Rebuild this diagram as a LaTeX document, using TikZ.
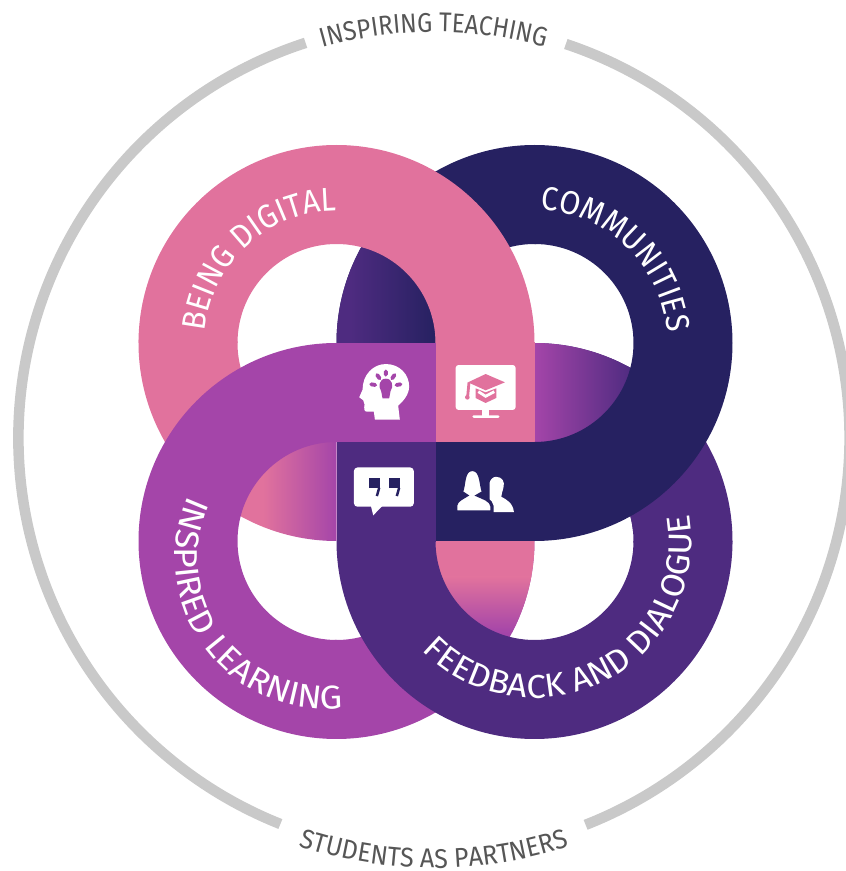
\documentclass[tikz,border=0pt]{standalone}
\usepackage{fontspec}
\setmainfont{Fira Sans}
\usetikzlibrary{calc,decorations.text}

\definecolor{pinkc}{HTML}{E1729D}
\definecolor{navyc}{HTML}{262161}
\definecolor{purplec}{HTML}{4E2B80}
\definecolor{magentac}{HTML}{A445A9}
\definecolor{ringc}{HTML}{C9C9C9}
\definecolor{capc}{HTML}{565656}

\def\Rout{1.98}
\def\Rin{.99}

% annular sector: centre, start angle, end angle
\newcommand{\annulus}[3]{(#1) ++(#2:\Rout) arc[start angle=#2,end angle=#3,radius=\Rout] -- ($(#1)+(#3:\Rin)$) arc[start angle=#3,end angle=#2,radius=\Rin] -- cycle}

% text on a circle: centre, radius, start, end, size, stretch, colour, text
\newcommand{\arclabel}[8]{\path[decorate,decoration={text along path,text align=center,text color=#7,text={|\fontspec[FakeStretch=#6]{Fira Sans}\fontsize{#5}{10}\selectfont|#8}}] (#1) ++(#3:#2) arc[start angle=#3,end angle=#4,radius=#2];}

\begin{document}
\begin{tikzpicture}
\useasboundingbox (0,0) rectangle (8.46,8.71);

\coordinate (P) at (3.365,5.28);
\coordinate (N) at (5.345,5.28);
\coordinate (M) at (3.365,3.30);
\coordinate (F) at (5.345,3.30);
\coordinate (O) at (4.34,4.33);

% outer ring
\draw[ringc,line width=3pt] (O) ++(108:4.155) arc[start angle=108,end angle=248.3,radius=4.155];
\draw[ringc,line width=3pt] (O) ++(71.5:4.155) arc[start angle=71.5,end angle=-68.6,radius=4.155];

% quarters that run under the next ring
\begin{scope}
  \clip \annulus{N}{89}{180};
  \fill[navyc] (3.3,5.2) rectangle (5.5,7.3);
  \fill[purplec] (3.3,5.2) rectangle (3.51,7.3);
  \shade[left color=purplec,right color=navyc] (3.5,5.2) rectangle (4.36,7.3);
\end{scope}
\begin{scope}
  \clip \annulus{F}{-1}{90};
  \fill[purplec] (5.3,3.2) rectangle (7.4,5.4);
  \shade[left color=magentac,right color=purplec] (5.345,3.2) rectangle (6.33,5.4);
\end{scope}
\begin{scope}
  \clip \annulus{M}{269}{360};
  \fill[magentac] (3.2,1.2) rectangle (5.4,3.4);
  \fill[pinkc] (3.2,2.93) rectangle (5.4,3.4);
  \shade[top color=pinkc,bottom color=magentac] (3.2,2.38) rectangle (5.4,2.94);
\end{scope}
\begin{scope}
  \clip \annulus{P}{179}{270};
  \fill[pinkc] (1.3,3.2) rectangle (2.64,5.5);
  \shade[left color=pinkc,right color=magentac] (2.63,3.2) rectangle (3.37,5.5);
\end{scope}

% solid parts
\fill[pinkc] \annulus{P}{0}{180};
\fill[pinkc] (4.355,5.29) rectangle (5.345,4.29);
\fill[navyc] \annulus{N}{-90}{90};
\fill[navyc] (4.355,4.29) rectangle (5.355,3.30);
\fill[purplec] \annulus{F}{180}{360};
\fill[purplec] (3.365,4.29) rectangle (4.355,3.29);
\fill[magentac] \annulus{M}{90}{270};
\fill[magentac] (3.355,5.28) rectangle (4.355,4.29);

% ring labels
\arclabel{P}{1.32}{190}{75}{9.4}{.92}{white}{BEING DIGITAL}
\arclabel{N}{1.33}{102}{-10}{9.4}{.92}{white}{COMMUNITIES}
\arclabel{3.26,3.13}{1.51}{141}{291}{9.4}{1.08}{white}{INSPIRED LEARNING}
\arclabel{F}{1.57}{208}{386}{9.4}{1.05}{white}{FEEDBACK AND DIALOGUE}

% outer labels
\arclabel{O}{4.06}{109}{71}{7.7}{.89}{capc}{INSPIRING TEACHING}
\arclabel{O}{4.30}{248}{292}{7.7}{.93}{capc}{STUDENTS AS PARTNERS}

% icons
\begin{scope}[shift={(3.2,6.41)},x=.0033333cm,y=-.0033333cm]
  % head
  \fill[white] (198,403) .. controls (240,403) and (268,435) .. (268,470)
    .. controls (268,495) and (250,515) .. (235,528) -- (240,570) -- (165,570) -- (162,546) -- (140,546)
    .. controls (132,546) and (132,535) .. (134,525) -- (130,512) -- (118,503) -- (128,480)
    .. controls (128,435) and (160,403) .. (198,403) -- cycle;
  \fill[magentac] (198,447) .. controls (218,447) and (222,470) .. (212,485) -- (208,506) -- (188,506) -- (184,485)
    .. controls (174,470) and (178,447) .. (198,447) -- cycle;
  \draw[magentac,line width=1.1pt,line cap=round]
    (198,425) -- (198,435)
    (172,436) -- (179,446)
    (224,436) -- (217,446)
    (154,464) -- (166,466)
    (242,464) -- (230,466);
  % monitor
  \fill[white,rounded corners=.8pt] (408,406) rectangle (588,541);
  \fill[white] (488,538) rectangle (508,560);
  \fill[white,rounded corners=.4pt] (458,557) rectangle (540,565);
  \fill[pinkc] (445,458) -- (498,433) -- (556,458) -- (498,482) -- cycle;
  \fill[pinkc] (468,476) -- (498,488) -- (530,476) -- (530,505) -- (498,520) -- (468,505) -- cycle;
  \draw[white,line width=.8pt] (476,486) -- (498,500) -- (524,486);
  \draw[pinkc,line width=.8pt] (448,458) -- (444,500);
  \fill[pinkc] (443,503) circle (7);
  % speech bubble
  \fill[white,rounded corners=1pt] (102,714) rectangle (282,832);
  \fill[white] (152,825) -- (160,858) -- (192,825) -- cycle;
  \fill[navyc] (148,745) rectangle (180,775);
  \fill[navyc] (208,745) rectangle (240,775);
  \draw[navyc,line width=.7pt] (178,775) -- (171,800);
  \draw[navyc,line width=.7pt] (238,775) -- (231,800);
  % two people
  \fill[white] (530,742) .. controls (548,742) and (556,758) .. (552,772) .. controls (550,785) and (545,792) .. (545,802)
    .. controls (560,810) and (580,820) .. (583,848) -- (510,848) -- (510,760) .. controls (512,750) and (520,742) .. (530,742) -- cycle;
  \fill[white,draw=navyc,line width=.9pt] (408,848) -- (408,828) .. controls (410,812) and (430,805) .. (440,798) -- (425,788)
    .. controls (435,770) and (428,720) .. (458,720) .. controls (488,720) and (482,770) .. (492,788) -- (475,798)
    .. controls (490,805) and (515,812) .. (517,830) -- (517,848) -- cycle;
\end{scope}
\end{tikzpicture}
\end{document}
